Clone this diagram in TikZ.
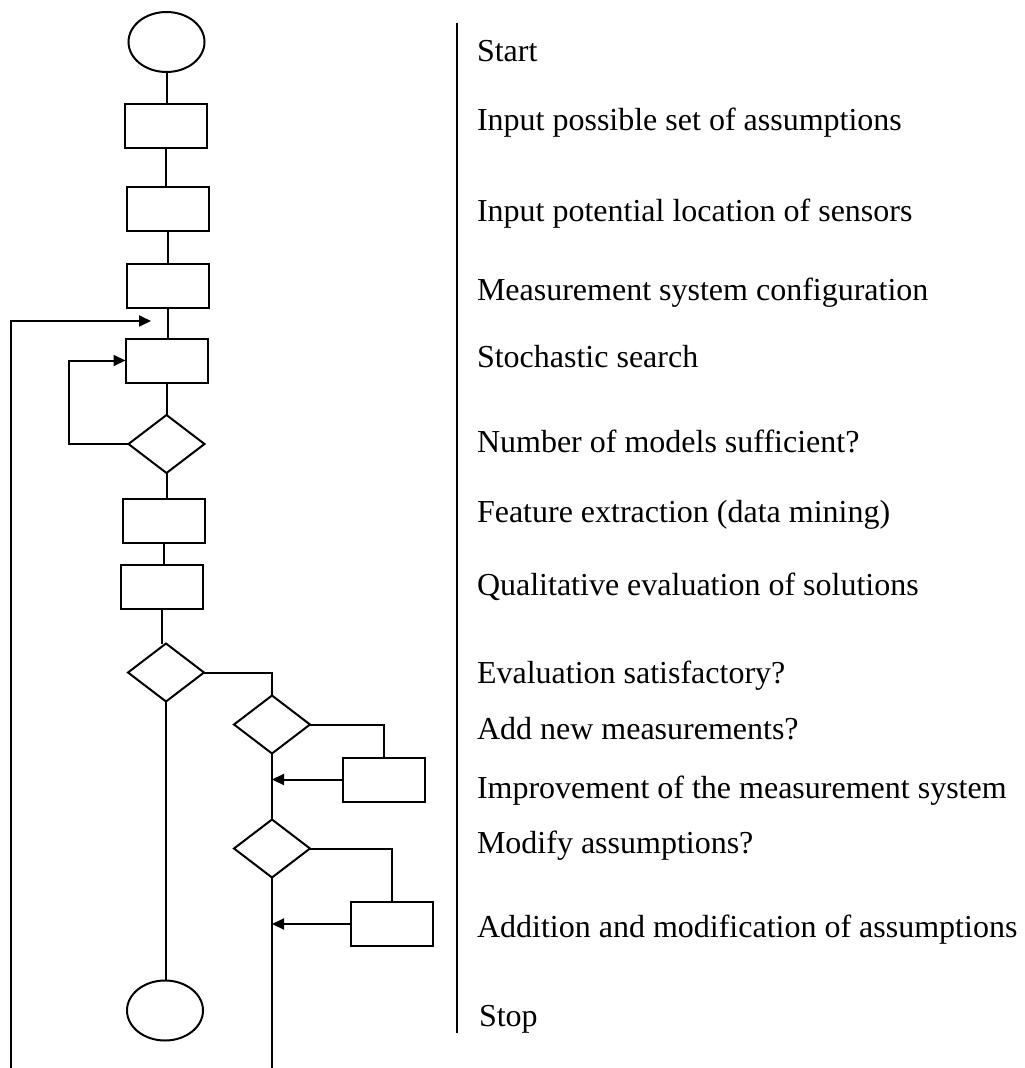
\documentclass[tikz,border=0pt]{standalone}
\usepackage{fontspec}
\setmainfont{Liberation Serif}
\usetikzlibrary{shapes.geometric,arrows.meta}
\begin{document}
\begin{tikzpicture}[x=1pt,y=-1pt,
  line width=2pt,
  every node/.style={inner sep=0pt, outer sep=0pt},
  term/.style={draw, ellipse, minimum width=76pt, minimum height=60pt},
  proc/.style={draw, rectangle, minimum width=82pt, minimum height=44pt},
  dec/.style={draw, diamond, minimum width=76pt, minimum height=58pt},
  lbl/.style={anchor=base west, font=\fontsize{32}{38}\selectfont},
  arr/.style={-{Triangle[length=12pt,width=11pt]}}]
\useasboundingbox (0,0) rectangle (1025,1068);
% shapes
\node[term] (start) at (166.5,42) {};
\node[proc] (b1) at (165.5,126) {};
\node[proc] (b2) at (168,208.5) {};
\node[proc] (b3) at (168,285.5) {};
\node[proc] (b4) at (166.5,360.5) {};
\node[dec]  (d1) at (166.5,444) {};
\node[proc] (b5) at (164,520.5) {};
\node[proc] (b6) at (162,587) {};
\node[dec]  (d2) at (166,672.5) {};
\node[dec]  (d3) at (272,724.5) {};
\node[proc] (b7) at (384,779.5) {};
\node[dec]  (d4) at (272,848.5) {};
\node[proc] (b8) at (392,924) {};
\node[term] (stop) at (165,1010.5) {};
\coordinate (loopstart) at (11,1068);
\coordinate (loopend) at (151,321);
\coordinate (exit) at (272,1068);
% connectors
\draw (start.south) -- (start.south |- b1.north);
\draw (b1.south) -- (b1.south |- b2.north);
\draw (b2.south) -- (b2.south |- b3.north);
\draw (b3.south) -- (b3.south |- b4.north);
\draw (b4.south) -- (d1.north);
\draw[arr] (d1.west) -- ++(-60,0) |- (b4.west);
\draw (d1.south) -- (d1.south |- b5.north);
\draw (b5.south) -- (b5.south |- b6.north);
\draw (b6.south) -- (b6.south |- d2.north);
\draw (d2.south) -- (d2.south |- stop.north);
\draw (d2.east) -| (d3.north);
\draw (d3.east) -| (b7.north);
\draw[arr] (b7.west) -- (b7.west -| d3.south);
\draw (d3.south) -- (d4.north);
\draw (d4.east) -| (b8.north);
\draw[arr] (b8.west) -- (b8.west -| d4.south);
\draw (d4.south) -- (exit);
\draw[arr] (loopstart) |- (loopend);
% separator
\draw (457,23) -- (457,1033);
% labels
\node[lbl] (t1) at (477,61) {Start};
\node[lbl] (t2) at (477,130) {Input possible set of assumptions};
\node[lbl] (t3) at (477,221) {Input potential location of sensors};
\node[lbl] (t4) at (477,300) {Measurement system configuration};
\node[lbl] (t5) at (477,367) {Stochastic search};
\node[lbl] (t6) at (477,452) {Number of models sufficient?};
\node[lbl] (t7) at (477,522) {Feature extraction (data mining)};
\node[lbl] (t8) at (477,595) {Qualitative evaluation of solutions};
\node[lbl] (t9) at (477,683) {Evaluation satisfactory?};
\node[lbl] (t10) at (477,739) {Add new measurements?};
\node[lbl] (t11) at (477,798) {Improvement of the measurement system};
\node[lbl] (t12) at (477,853) {Modify assumptions?};
\node[lbl] (t13) at (477,937) {Addition and modification of assumptions};
\node[lbl] (t14) at (479,1026) {Stop};
\end{tikzpicture}
\end{document}
